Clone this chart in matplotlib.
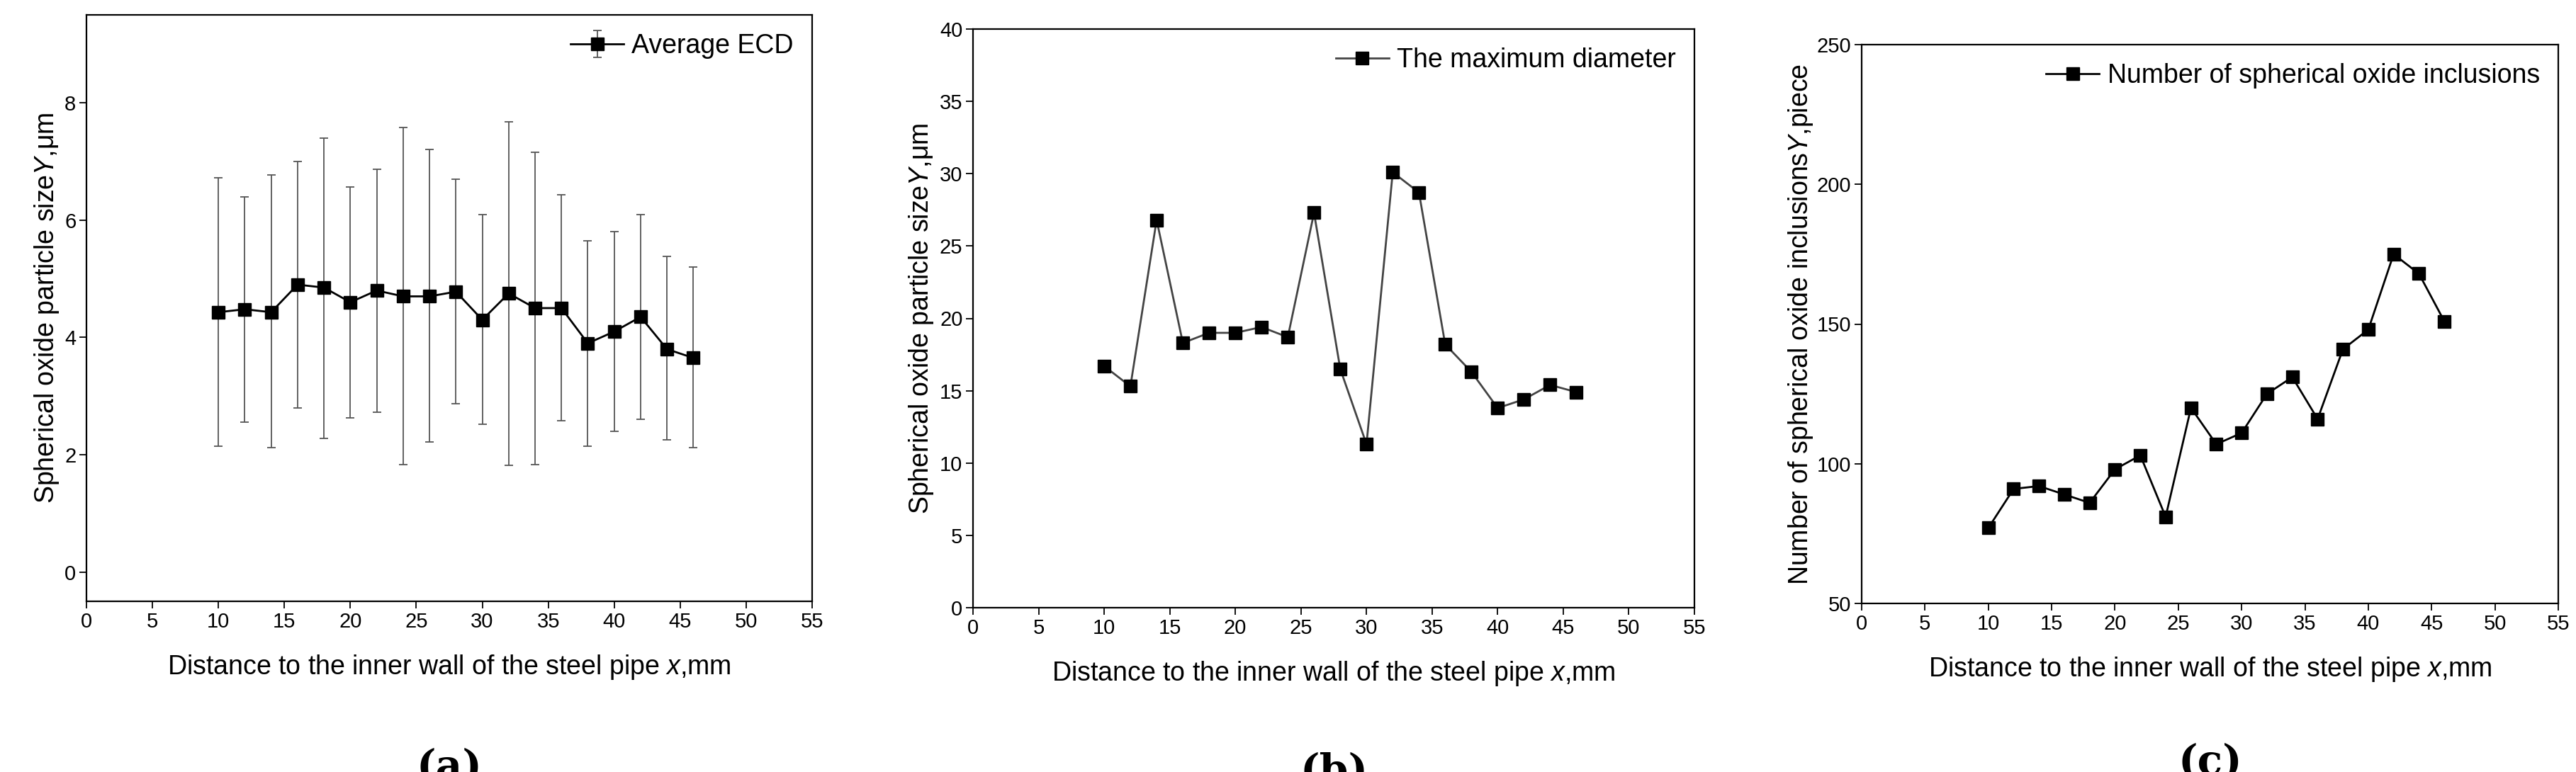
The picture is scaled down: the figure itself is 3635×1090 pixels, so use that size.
import matplotlib
matplotlib.use("Agg")
import matplotlib.pyplot as plt

plt.rcParams['font.family'] = ['Liberation Sans', 'DejaVu Sans']
plt.rcParams['mathtext.fontset'] = 'custom'
plt.rcParams['mathtext.it'] = 'Liberation Sans:italic'

x = [10, 12, 14, 16, 18, 20, 22, 24, 26, 28, 30, 32, 34, 36, 38, 40, 42, 44, 46]

# (a) average ECD with error bars
ecd_mean = [4.43, 4.48, 4.43, 4.90, 4.85, 4.60, 4.80, 4.70, 4.70, 4.78, 4.30, 4.75,
            4.50, 4.50, 3.90, 4.10, 4.35, 3.80, 3.65]
ecd_upper = [6.72, 6.40, 6.77, 7.00, 7.40, 6.57, 6.87, 7.58, 7.20, 6.70, 6.10, 7.68,
             7.16, 6.43, 5.65, 5.80, 6.10, 5.38, 5.20]
ecd_lower = [2.15, 2.55, 2.12, 2.80, 2.28, 2.63, 2.72, 1.83, 2.22, 2.87, 2.52, 1.82,
             1.83, 2.58, 2.15, 2.40, 2.60, 2.25, 2.12]

# (b) maximum diameter
max_diam = [16.7, 15.3, 26.8, 18.3, 19.0, 19.0, 19.4, 18.7, 27.3, 16.5, 11.3, 30.1,
            28.7, 18.2, 16.3, 13.8, 14.4, 15.4, 14.9]

# (c) number of inclusions
count = [77, 91, 92, 89, 86, 98, 103, 81, 120, 107, 111, 125, 131, 116, 141, 148,
         175, 168, 151]

xlabel = r"Distance to the inner wall of the steel pipe $x$,mm"
W, H = 3635, 1090
fig = plt.figure(figsize=(W / 100, H / 100), dpi=100)

def add_ax(l, r, t, b):
    return fig.add_axes([l / W, 1 - b / H, (r - l) / W, (b - t) / H])

ax1 = add_ax(122, 1146, 21, 849)
ax2 = add_ax(1373, 2391, 41, 858)
ax3 = add_ax(2627, 3610, 63, 852)

err = [[m - lo for m, lo in zip(ecd_mean, ecd_lower)],
       [up - m for m, up in zip(ecd_mean, ecd_upper)]]
ax1.errorbar(x, ecd_mean, yerr=err, color='black', ecolor='#555555', elinewidth=1.3,
             capsize=4, capthick=1.3, marker='s', markersize=13, linewidth=2,
             label="Average ECD")
ax1.set_ylim(-0.5, 9.5)
ax1.set_yticks([0, 2, 4, 6, 8])
ax1.set_ylabel(r"Spherical oxide particle size$Y$,μm", fontsize=27)

ax2.plot(x, max_diam, color='#444444', marker='s', markersize=13, markerfacecolor='black',
         markeredgecolor='black', linewidth=2, label="The maximum diameter")
ax2.set_ylim(0, 40)
ax2.set_yticks(range(0, 41, 5))
ax2.set_ylabel(r"Spherical oxide particle size$Y$,μm", fontsize=27)

ax3.plot(x, count, color='black', marker='s', markersize=13, linewidth=2,
         label="Number of spherical oxide inclusions")
ax3.set_ylim(50, 250)
ax3.set_yticks(range(50, 251, 50))
ax3.set_ylabel(r"Number of spherical oxide inclusions$Y$,piece", fontsize=27,
               labelpad=2)

for ax, tag in [(ax1, 'a'), (ax2, 'b'), (ax3, 'c')]:
    ax.set_xlim(0, 55)
    ax.set_xticks(range(0, 56, 5))
    ax.tick_params(labelsize=21, direction='out', length=7, width=1.3)
    ax.set_xlabel(xlabel, fontsize=27, labelpad=22)
    for s in ax.spines.values():
        s.set_linewidth(1.6)
    ax.legend(loc='upper right', frameon=False, fontsize=27, handlelength=2.0,
              handletextpad=0.3, borderaxespad=0.3)
    ax.text(0.5, -0.25, "(" + tag + ")", transform=ax.transAxes, ha='center', va='top',
            fontsize=42, family='DejaVu Serif', fontweight='bold')

fig.savefig("out.png", dpi=100)
